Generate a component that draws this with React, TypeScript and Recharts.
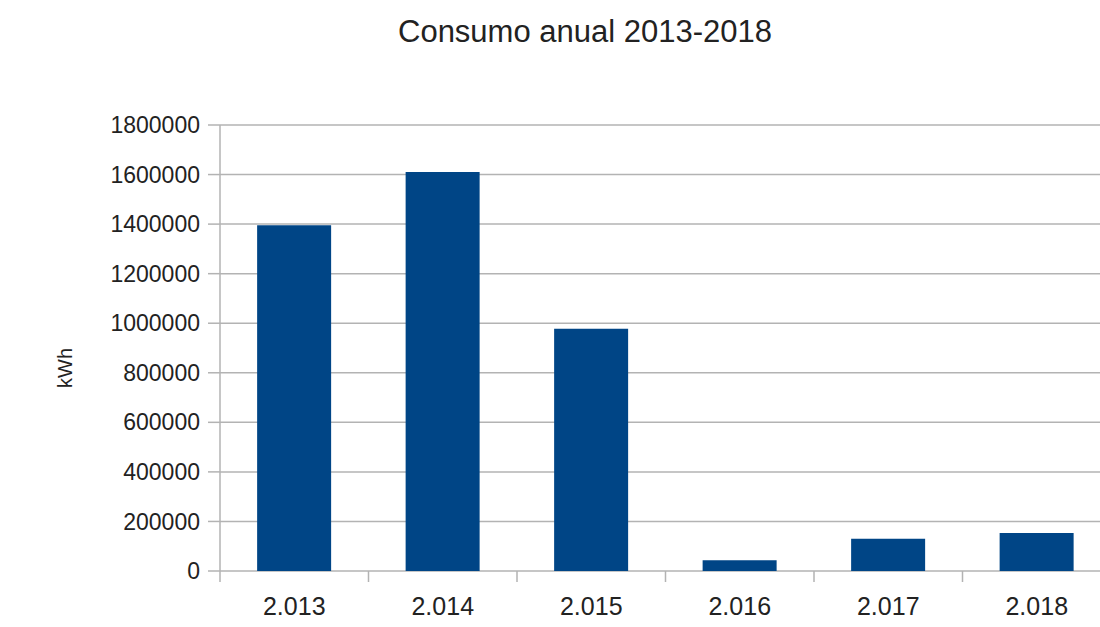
import React from 'react';
import { BarChart, Bar, XAxis, YAxis, CartesianGrid } from 'recharts';

const years = ['2.013', '2.014', '2.015', '2.016', '2.017', '2.018'];
const consumo = [1395000, 1610000, 978000, 43000, 130000, 153000];
const yTicks = [0, 200000, 400000, 600000, 800000, 1000000, 1200000, 1400000, 1600000, 1800000];

const data = years.map((year, i) => ({ year, consumo: consumo[i] }));

const FONT = '"Liberation Sans", Arial, sans-serif';
const GRID = '#b3b3b3';
const TEXT = '#222';

// label centred on the category, tick mark on the left boundary of the band
const XTick = (props: any) => {
  const { x, y, payload, width, visibleTicksCount } = props;
  const band = width / visibleTicksCount;
  const bx = x - band / 2;
  return (
    <g>
      <line x1={bx} x2={bx} y1={y} y2={y + 11} stroke={GRID} strokeWidth={1.5} />
      <text x={x} y={y + 44} textAnchor="middle" fill={TEXT} fontSize={25} fontFamily={FONT}>
        {payload.value}
      </text>
    </g>
  );
};

const YLabel = (props: any) => {
  const { viewBox } = props;
  const cx = viewBox.x + 65;
  const cy = viewBox.y + viewBox.height / 2 + 20;
  return (
    <text x={cx} y={cy} transform={`rotate(-90, ${cx}, ${cy})`} textAnchor="middle" dominantBaseline="central"
      fill={TEXT} fontSize={20} fontFamily={FONT}>
      kWh
    </text>
  );
};

const App: React.FC = () => {
  return (
    <div style={{ position: 'absolute', left: 0, top: 0, width: 1100, height: 627, overflow: 'hidden', background: '#fff' }}>
      <div style={{ position: 'absolute', left: 0, width: 1170, top: 14, textAlign: 'center', fontFamily: FONT, fontSize: 31, color: TEXT, zIndex: 1 }}>
        Consumo anual 2013-2018
      </div>
      <BarChart width={1111} height={627} data={data} margin={{ top: 125, right: 0, bottom: 0, left: 0 }} barCategoryGap="25%">
        <CartesianGrid vertical={false} stroke={GRID} strokeWidth={1.5} />
        <XAxis
          dataKey="year"
          axisLine={false}
          tickLine={false}
          tickSize={0}
          tickMargin={0}
          height={56}
          tick={<XTick />}
          interval={0}
        />
        <YAxis
          width={220}
          domain={[0, 1800000]}
          ticks={yTicks}
          interval={0}
          axisLine={{ stroke: GRID, strokeWidth: 1.5 }}
          tickLine={{ stroke: GRID, strokeWidth: 1.5 }}
          tickSize={12}
          tickMargin={8}
          tick={{ fill: TEXT, fontSize: 23, fontFamily: FONT }}
          label={<YLabel />}
        />
        <Bar dataKey="consumo" fill="#004586" isAnimationActive={false} />
      </BarChart>
    </div>
  );
};

export default App;
